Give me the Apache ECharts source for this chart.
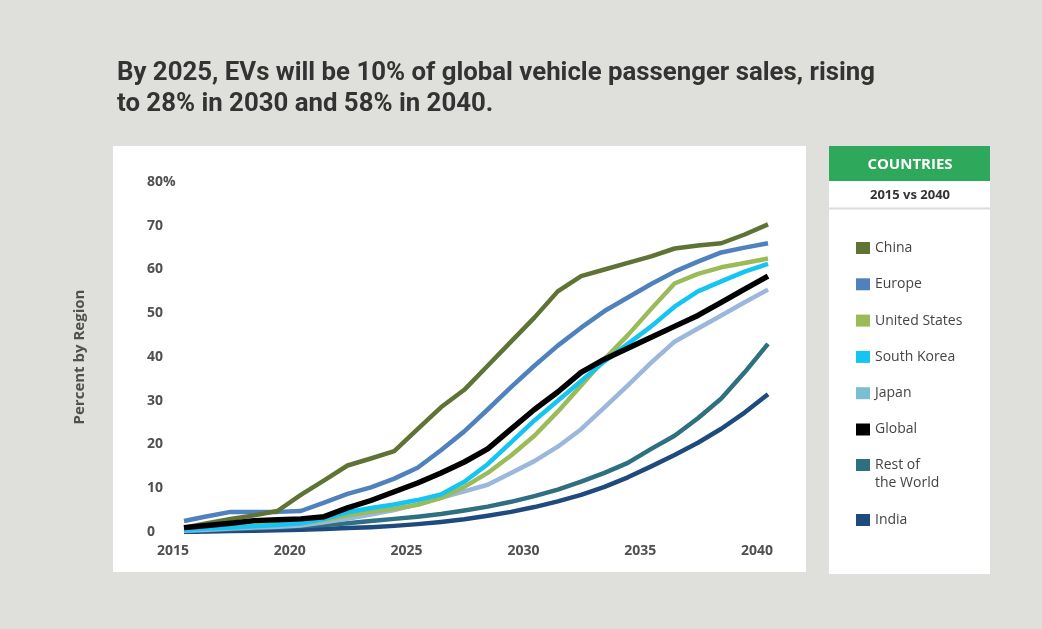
<!DOCTYPE html>
<html>
<head>
<meta charset="utf-8">
<script src="https://cdn.jsdelivr.net/npm/echarts@6/dist/echarts.min.js"></script>
<style>
html,body{margin:0;padding:0;background:#dfdfdb;}
#chart{width:1042px;height:629px;}
</style>
</head>
<body>
<div id="chart"></div>
<script>
var years = [2015,2016,2017,2018,2019,2020,2021,2022,2023,2024,2025,2026,2027,2028,2029,2030,2031,2032,2033,2034,2035,2036,2037,2038,2039,2040];
var xTicks = [2015,2020,2025,2030,2035,2040];
var yTickLabels = ['0','10','20','30','40','50','60','70','80%'];

var china      = [1.0,2.0,3.0,3.8,4.8,8.5,11.8,15.2,16.8,18.5,23.5,28.5,32.5,38.0,43.5,49.0,55.0,58.5,60.0,61.5,63.0,64.8,65.5,66.0,68.0,70.3];
var europe     = [2.5,3.6,4.6,4.6,4.6,4.8,6.7,8.7,10.2,12.2,14.7,18.7,23.0,28.0,33.1,38.0,42.6,46.7,50.5,53.6,56.7,59.5,61.8,63.9,65.0,66.0];
var usa        = [0.5,1.0,1.3,1.5,1.8,2.0,2.8,3.8,4.6,5.3,6.2,7.8,10.3,13.5,17.5,22.0,27.5,33.5,39.5,45.0,51.0,56.8,59.0,60.5,61.5,62.5];
var southKorea = [0.5,0.8,1.0,1.3,1.6,2.0,3.0,4.5,5.5,6.3,7.3,8.6,11.5,15.5,20.5,25.5,30.0,34.5,39.0,43.0,47.0,51.5,55.0,57.3,59.5,61.3];
var japan      = [0.3,0.5,0.8,1.0,1.2,1.5,2.2,3.0,4.0,5.0,6.3,7.8,9.3,10.8,13.5,16.2,19.5,23.5,28.5,33.5,38.7,43.5,46.5,49.5,52.5,55.4];
var globalAvg  = [1.0,1.5,2.0,2.6,2.8,3.0,3.5,5.5,7.2,9.2,11.2,13.5,16.0,19.0,23.5,28.0,32.0,36.5,39.5,42.0,44.5,47.0,49.5,52.5,55.5,58.5];
var restWorld  = [0.2,0.4,0.6,0.8,1.0,1.3,1.6,2.0,2.5,3.0,3.5,4.1,4.9,5.8,6.9,8.2,9.7,11.5,13.5,15.8,19.0,22.0,26.0,30.5,36.5,43.0];
var india      = [0.0,0.1,0.2,0.3,0.4,0.5,0.7,0.9,1.1,1.4,1.8,2.3,2.9,3.7,4.6,5.7,7.0,8.5,10.3,12.5,15.0,17.6,20.4,23.6,27.3,31.5];

var titleLines = ['By 2025, EVs will be 10% of global vehicle passenger sales, rising', 'to 28% in 2030 and 58% in 2040.'];

function pairs(arr){ return years.map(function(y,i){ return [y, arr[i]]; }); }

var titleFont = 'bold 26px Roboto';
var cv = document.createElement('canvas').getContext('2d');
cv.font = titleFont;
var w1 = cv.measureText(titleLines[0]).width;
var titleScale = 758 / w1;

var chart = echarts.init(document.getElementById('chart'), null, {renderer:'canvas'});
var txtFont = "'Open Sans', sans-serif";

var seriesDefs = [
  {name:'India', data:india, color:'#1f4a7d', w:4.5},
  {name:'Rest of the World', data:restWorld, color:'#2e6f80', w:4.5},
  {name:'Japan', data:japan, color:'#9bb7dc', w:4.5},
  {name:'United States', data:usa, color:'#9bbb59', w:4.5},
  {name:'South Korea', data:southKorea, color:'#14c4f2', w:4.5},
  {name:'Europe', data:europe, color:'#4f81bd', w:4.5},
  {name:'China', data:china, color:'#5e7334', w:4.5},
  {name:'Global', data:globalAvg, color:'#000000', w:5.5}
];

var legendText = {fontFamily: txtFont, fontSize: 14, color: '#444', lineHeight: 16};

var option = {
  backgroundColor: '#dfdfdb',
  animation: false,
  graphic: [
    {type:'rect', z:-10, shape:{x:113, y:146, width:693, height:426}, style:{fill:'#ffffff'}},
    {type:'rect', z:-10, shape:{x:829, y:146, width:161, height:428}, style:{fill:'#ffffff'}},
    {type:'rect', z:-9, shape:{x:829, y:146, width:161, height:35}, style:{fill:'#2ea85a'}},
    {type:'line', z:-9, shape:{x1:829, y1:208.5, x2:990, y2:208.5}, style:{stroke:'#dcdcdc', lineWidth:2}},
    {type:'text', z:10, x:910, y:165, style:{text:'COUNTRIES', fill:'#ffffff', font:"bold 15px 'Open Sans', sans-serif", textAlign:'center', textVerticalAlign:'middle'}},
    {type:'text', z:10, x:910, y:195, style:{text:'2015 vs 2040', fill:'#333333', font:"bold 13px 'Open Sans', sans-serif", textAlign:'center', textVerticalAlign:'middle'}},
    {type:'text', z:10, x:117, y:58, scaleX: titleScale, style:{text: titleLines.join('\n'), fill:'#333333', font: titleFont, lineHeight:31}}
  ],
  grid: {left:184, right:274, top:182, bottom:97, containLabel:false},
  xAxis: {
    type:'value', min:2015, max:2040, interval:5,
    axisLine:{show:false}, axisTick:{show:false}, splitLine:{show:false},
    axisLabel:{margin:12, padding:[0,22,0,0], fontFamily:txtFont, fontWeight:'bold', fontSize:14, color:'#505050',
      formatter:function(v){ return xTicks.indexOf(v) >= 0 ? String(v) : ''; }}
  },
  yAxis: {
    type:'value', min:0, max:80, interval:10,
    name:'Percent by Region', nameLocation:'middle', nameRotate:90, nameGap:97,
    nameTextStyle:{fontFamily:txtFont, fontWeight:'bold', fontSize:15, color:'#505050'},
    axisLine:{show:false}, axisTick:{show:false}, splitLine:{show:false},
    axisLabel:{margin:37, align:'left', fontFamily:txtFont, fontWeight:'bold', fontSize:14, color:'#505050',
      formatter:function(v){ return yTickLabels[Math.round(v/10)]; }}
  },
  legend: [
    {orient:'vertical', left:856, top:240, padding:0, itemGap:20.3, itemWidth:14, itemHeight:12, selectedMode:false,
     icon:'rect', itemStyle:{borderWidth:0}, textStyle:legendText,
     data:[
      {name:'China'},
      {name:'Europe'},
      {name:'United States'},
      {name:'South Korea'},
      {name:'Japan', itemStyle:{color:'#7bbdd1'}},
      {name:'Global'}
     ]},
    {orient:'vertical', left:856, top:456, padding:0, itemWidth:14, itemHeight:30, selectedMode:false,
     icon:'path://M0,0L14,0L14,12L0,12Z M0,30L0.01,30', itemStyle:{borderWidth:0},
     textStyle:{fontFamily: txtFont, fontSize: 14, color: '#444', lineHeight: 18},
     formatter:function(n){ return n === 'Rest of the World' ? 'Rest of\nthe World' : n; },
     data:[{name:'Rest of the World'}]},
    {orient:'vertical', left:856, top:512, padding:0, itemWidth:14, itemHeight:12, selectedMode:false,
     icon:'rect', itemStyle:{borderWidth:0}, textStyle:legendText,
     data:[{name:'India'}]}
  ],
  series: seriesDefs.map(function(s){
    return {
      type:'line', name:s.name, data:pairs(s.data), symbol:'none', smooth:false,
      color:s.color,
      lineStyle:{color:s.color, width:s.w, join:'round'},
      itemStyle:{color:s.color},
      emphasis:{disabled:true}
    };
  })
};
chart.setOption(option);
</script>
</body>
</html>
